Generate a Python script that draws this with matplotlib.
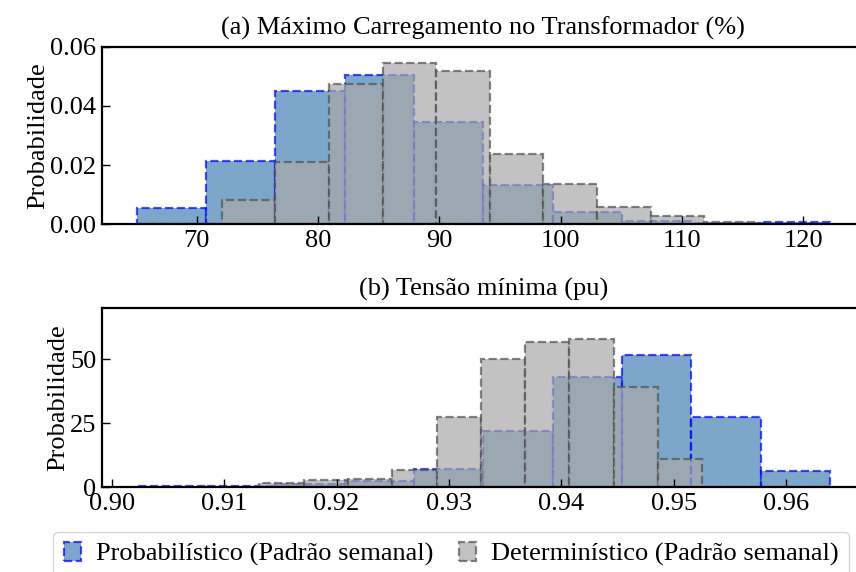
import matplotlib
matplotlib.use("Agg")
import matplotlib.pyplot as plt
from matplotlib.ticker import MultipleLocator

plt.rcParams["font.family"] = ["Liberation Serif", "DejaVu Serif"]
plt.rcParams["font.size"] = 19

# (a) Maximum transformer loading (%) - histogram bin edges and densities
load_prob_edges = [65.04, 70.76, 76.47, 82.19, 87.90, 93.62, 99.33, 105.05, 110.77, 116.48, 122.20]
load_prob_density = [0.0054, 0.0215, 0.0450, 0.0504, 0.0347, 0.0133, 0.0043, 0.0010, 0.0004, 0.0007]
load_det_edges = [72.06, 76.48, 80.89, 85.31, 89.73, 94.15, 98.56, 102.98, 107.40, 111.81, 116.23]
load_det_density = [0.0082, 0.0211, 0.0473, 0.0546, 0.0518, 0.0237, 0.0136, 0.0059, 0.0028, 0.0007]

# (b) Minimum voltage (pu)
volt_prob_edges = [0.90222, 0.90839, 0.91456, 0.92072, 0.92689, 0.93306,
                   0.93922, 0.94539, 0.95156, 0.95772, 0.96389]
volt_prob_density = [0.4, 0.4, 1.2, 2.6, 7.0, 22.0, 43.0, 51.7, 27.3, 6.5]
volt_det_edges = [0.91313, 0.91707, 0.92101, 0.92495, 0.92889, 0.93283,
                  0.93677, 0.94071, 0.94465, 0.94859, 0.95253]
volt_det_density = [1.7, 2.9, 3.1, 6.6, 27.4, 50.2, 56.7, 58.0, 39.2, 10.9]

titles = ["(a) Máximo Carregamento no Transformador (%)", "(b) Tensão mínima (pu)"]
labels = ["Probabilístico (Padrão semanal)", "Determinístico (Padrão semanal)"]
ylabel = "Probabilidade"

prob_style = dict(facecolor="steelblue", edgecolor="blue", alpha=0.7,
                  linestyle="--", linewidth=1.6)
det_style = dict(facecolor="darkgray", edgecolor="#505050", alpha=0.7,
                 linestyle="--", linewidth=1.6)

fig = plt.figure(figsize=(8.56, 5.72), dpi=100)
ax1 = fig.add_axes([0.1192, 0.6079, 0.891, 0.3105])
ax2 = fig.add_axes([0.1192, 0.1481, 0.891, 0.3129])


def draw_hist(ax, edges, dens, style, label):
    return ax.hist(edges[:-1], bins=edges, weights=dens, label=label, **style)


draw_hist(ax1, load_prob_edges, load_prob_density, prob_style, labels[0])
draw_hist(ax1, load_det_edges, load_det_density, det_style, labels[1])
draw_hist(ax2, volt_prob_edges, volt_prob_density, prob_style, labels[0])
draw_hist(ax2, volt_det_edges, volt_det_density, det_style, labels[1])

ax1.set_ylim(0, 0.06)
ax1.yaxis.set_major_locator(MultipleLocator(0.02))
ax1.xaxis.set_major_locator(MultipleLocator(10))
ax1.set_title(titles[0], fontsize=19, pad=9)

ax2.set_ylim(0, 70)
ax2.yaxis.set_major_locator(MultipleLocator(25))
ax2.xaxis.set_major_locator(MultipleLocator(0.01))
ax2.set_title(titles[1], fontsize=19, pad=9)

for ax in (ax1, ax2):
    ax.set_ylabel(ylabel, labelpad=0.5)
    ax.tick_params(direction="in", length=6, width=1.0, top=False, right=False,
                   labelsize=19, pad=4)
    for sp in ax.spines.values():
        sp.set_linewidth(1.6)

handles, labs = ax1.get_legend_handles_labels()
fig.legend(handles, labs, ncol=2, loc="upper left",
           bbox_to_anchor=(53.3 / 856, 1 - 531.7 / 572), borderaxespad=0,
           fontsize=19, handlelength=0.65, handleheight=0.72,
           handletextpad=0.55, columnspacing=1.0)

fig.savefig("out.png", dpi=100)
